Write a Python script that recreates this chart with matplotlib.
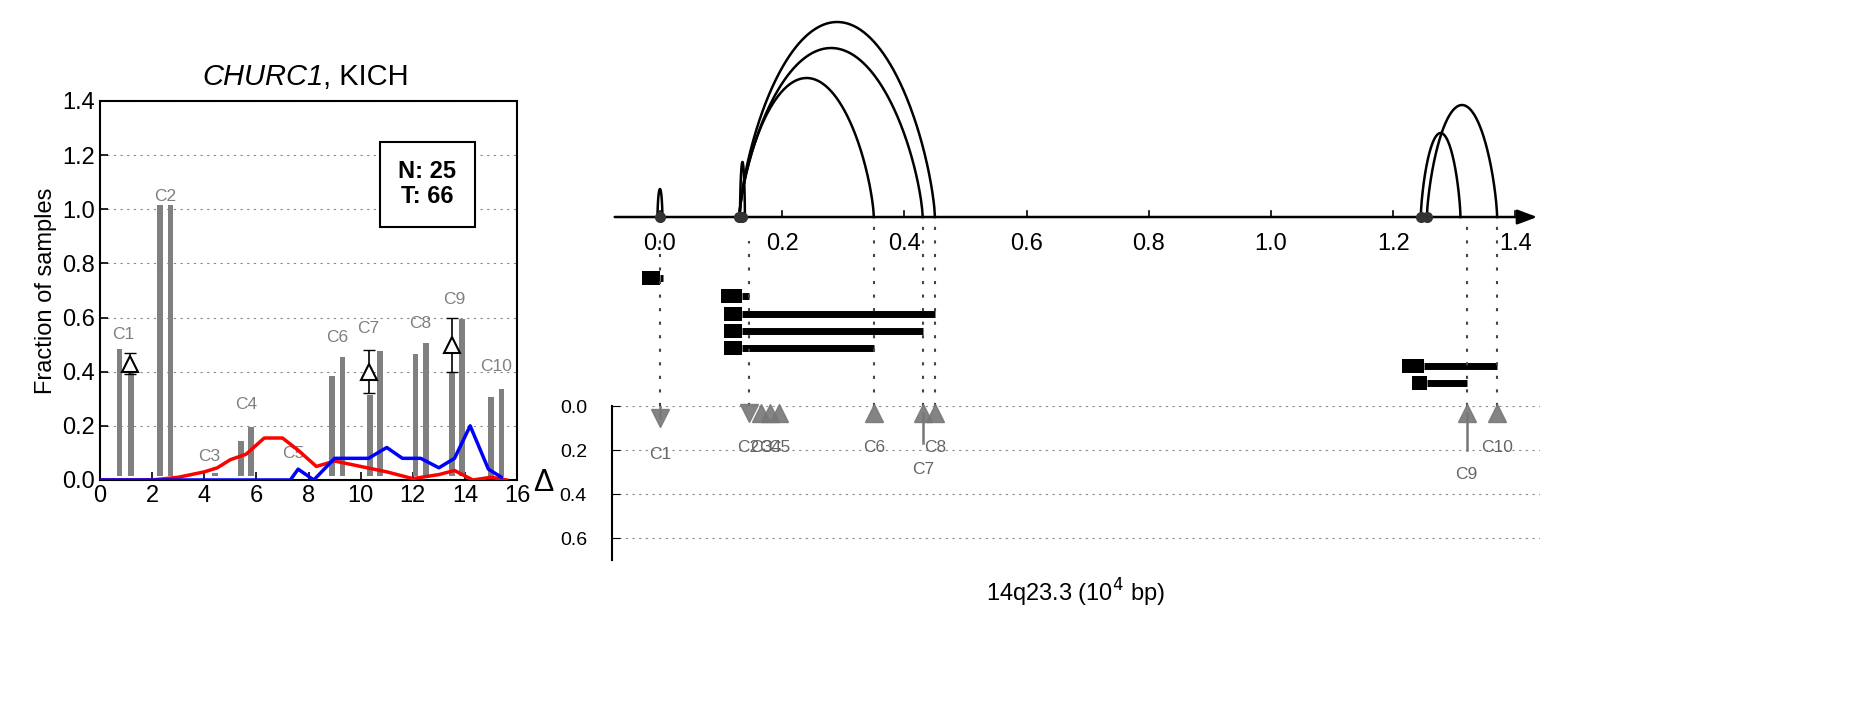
import matplotlib
matplotlib.use("Agg")
import matplotlib.pyplot as plt
import numpy as np

plt.rcParams['font.family'] = ['Liberation Sans', 'DejaVu Sans']

# ---- left panel data ----
bar_x = [0.75, 1.2, 2.3, 2.7, 4.1, 4.4, 5.4, 5.8, 7.3, 7.6, 8.9, 9.3, 10.35, 10.75, 12.1, 12.5, 13.5, 13.9, 15.0, 15.4]
bar_h = [0.47, 0.38, 1.0, 1.0, 0.0, 0.01, 0.13, 0.18, 0.0, 0.0, 0.37, 0.44, 0.30, 0.46, 0.45, 0.49, 0.38, 0.58, 0.29, 0.32]
clust_labels = ['C1', 'C2', 'C3', 'C4', 'C5', 'C6', 'C7', 'C8', 'C9', 'C10']
clust_lab_x = [0.9, 2.5, 4.2, 5.6, 7.4, 9.1, 10.3, 12.3, 13.6, 15.2]
clust_lab_y = [0.51, 1.02, 0.06, 0.25, 0.07, 0.50, 0.53, 0.55, 0.64, 0.39]
delta_x = [1.15, 10.3, 13.5]
delta_y = [0.43, 0.40, 0.50]
delta_lo = [0.39, 0.32, 0.40]
delta_hi = [0.47, 0.48, 0.60]
red_x = [0, 2, 3, 4, 4.5, 5, 5.6, 6.3, 7, 7.6, 8.3, 9, 10, 11, 12, 13, 13.6, 14.3, 15, 15.6]
red_y = [0, 0, 0.01, 0.03, 0.045, 0.075, 0.095, 0.155, 0.155, 0.11, 0.05, 0.07, 0.05, 0.03, 0.005, 0.02, 0.035, 0.0, 0.01, 0.0]
blue_x = [0, 7.3, 7.6, 8.2, 8.6, 9, 10.3, 11, 11.6, 12.3, 13, 13.6, 14.2, 14.9, 15.4]
blue_y = [0, 0, 0.04, 0.0, 0.04, 0.08, 0.08, 0.12, 0.08, 0.08, 0.045, 0.08, 0.2, 0.04, 0.01]

# ---- right panel data ----
arc_start = [0.13, 0.13, 0.13, 1.245, 1.255]
arc_end = [0.35, 0.43, 0.45, 1.31, 1.37]
arc_h = [139, 169, 195, 84, 112]
spike_x = [0.0, 0.135]
spike_h = [28, 55]
dot_x = [0.0, 0.13, 0.135, 1.245, 1.255]
tr_box = [(-0.03, 0.0), (0.10, 0.135), (0.105, 0.135), (0.105, 0.135), (0.105, 0.135), (1.215, 1.25), (1.23, 1.255)]
tr_end = [0.005, 0.145, 0.45, 0.43, 0.35, 1.37, 1.32]
tr_y = [128, 110, 92, 75, 58, 40, 23]
c_x = [0.0, 0.145, 0.165, 0.18, 0.195, 0.35, 0.43, 0.45, 1.32, 1.37]
c_y = [0.055, 0.03, 0.03, 0.03, 0.03, 0.03, 0.03, 0.03, 0.03, 0.03]
c_down = [True, True, False, False, False, False, False, False, False, False]
c_stem = [0.055, 0, 0, 0, 0, 0, 0.17, 0, 0.2, 0]
c_lab_y = [0.22, 0.19, 0.19, 0.19, 0.19, 0.19, 0.29, 0.19, 0.31, 0.19]
vline_x = [0.0, 0.145, 0.35, 0.43, 0.45, 1.32, 1.37]
vline_top = [175, 165, 189, 189, 189, 189, 189]
xticks_r = [0.0, 0.2, 0.4, 0.6, 0.8, 1.0, 1.2, 1.4]

fig = plt.figure(figsize=(18.56, 7.18), dpi=100)

# ===== left =====
ax = fig.add_axes([0.0539, 0.3315, 0.2247, 0.5279])
ax.bar(bar_x, bar_h, width=0.22, bottom=0.015, color='#808080', edgecolor='none', zorder=2)
for lx, ly, t in zip(clust_lab_x, clust_lab_y, clust_labels):
    ax.text(lx, ly, t, color='#808080', fontsize=12.5, ha='center', va='bottom', zorder=3)
ax.plot(red_x, red_y, color='red', lw=2.5, zorder=4)
ax.plot(blue_x, blue_y, color='blue', lw=2.5, zorder=4)
for dx, dy, lo, hi in zip(delta_x, delta_y, delta_lo, delta_hi):
    ax.errorbar([dx], [dy], yerr=[[dy - lo], [hi - dy]], fmt='none', ecolor='black', capsize=4, lw=1.2, zorder=5)
    ax.plot([dx], [dy], marker='^', ms=11, mfc='white', mec='black', mew=1.5, zorder=6)
ax.set_xlim(0, 16)
ax.set_ylim(0, 1.4)
ax.set_xticks(range(0, 17, 2))
ax.set_yticks(np.arange(0, 1.41, 0.2))
ax.set_yticklabels(['%.1f' % v for v in np.arange(0, 1.41, 0.2)])
ax.tick_params(direction='in', labelsize=17, length=6, width=1.2)
ax.yaxis.grid(True, ls=(0, (2, 4)), color='#888888', lw=0.8)
for s in ax.spines.values():
    s.set_linewidth(1.5)
ax.set_ylabel('Fraction of samples', fontsize=17)
ax.text(0.535, 1.025, 'CHURC1', transform=ax.transAxes, fontsize=21, style='italic', ha='right', va='bottom')
ax.text(0.535, 1.025, ', KICH', transform=ax.transAxes, fontsize=21, ha='left', va='bottom')
ax.text(0.785, 0.78, 'N: 25\nT: 66', transform=ax.transAxes, fontsize=17, fontweight='bold',
        va='center', ha='center', linespacing=1.1,
        bbox=dict(boxstyle='square,pad=0.8', fc='white', ec='black', lw=1.5))

# ===== right top =====
xl = (-0.0786, 1.44)
at = fig.add_axes([0.3297, 0.4345, 0.5, 0.5655])
at.set_xlim(*xl)
at.set_ylim(0, 406)
at.axis('off')
base = 189
at.annotate('', xy=(xl[1], base), xytext=(xl[0], base),
            arrowprops=dict(arrowstyle='-|>,head_length=1.2,head_width=0.45', color='black', lw=1.8))
for xt in xticks_r:
    at.plot([xt, xt], [base, base + 6], color='black', lw=1.2)
    at.text(xt, base - 16, '%.1f' % xt, ha='center', va='top', fontsize=17)
for s, e, h in zip(arc_start, arc_end, arc_h):
    u = np.linspace(-1, 1, 300)
    at.plot((s + e) / 2 + (e - s) / 2 * u, base + h * (1 - u ** 2) ** 0.7, color='black', lw=1.8)
for sx, sh in zip(spike_x, spike_h):
    w = 0.004
    u = np.linspace(-1, 1, 100)
    at.plot(sx + w * u, base + sh * (1 - u ** 2) ** 0.6, color='black', lw=1.8)
at.plot(dot_x, [base] * len(dot_x), 'o', color='#333333', ms=7, zorder=5)
for (b0, b1), e, y in zip(tr_box, tr_end, tr_y):
    at.plot([b1, e], [y, y], color='black', lw=5, solid_capstyle='butt')
    at.fill_between([b0, b1], y - 7, y + 7, color='black', lw=0)
for vx, vt in zip(vline_x, vline_top):
    at.plot([vx, vx], [0, vt], color='#444444', ls=(0, (1.5, 5)), lw=1.5)

# ===== right bottom =====
ab = fig.add_axes([0.3297, 0.22, 0.5, 0.2145])
ab.set_xlim(*xl)
ab.set_ylim(0.7, 0.0)
for k in ['top', 'right', 'bottom']:
    ab.spines[k].set_visible(False)
ab.spines['left'].set_linewidth(1.5)
ab.set_xticks([])
ab.set_yticks([0.0, 0.2, 0.4, 0.6])
ab.set_yticklabels(['0.0', '0.2', '0.4', '0.6'])
ab.tick_params(axis='y', direction='in', labelsize=14, length=6, pad=18)
ab.yaxis.grid(True, ls=(0, (2, 4)), color='#888888', lw=0.8)
ab.set_ylabel('Δ', fontsize=22, rotation=0, labelpad=12, va='center')
for i, (cx, cy, dn, st, ly, lab) in enumerate(zip(c_x, c_y, c_down, c_stem, c_lab_y, clust_labels)):
    if st > 0:
        ab.plot([cx, cx], [0, st] if dn else [cy, st], color='#777777', lw=1.8, zorder=2)
    ab.plot([cx], [cy], marker='v' if dn else '^', ms=13, color='#777777', alpha=0.9, zorder=3, clip_on=False)
    ab.text(cx, ly, lab, ha='center', va='center', fontsize=12.5, color='#666666')
ab.set_xlabel('14q23.3 (10$^4$ bp)', fontsize=17, labelpad=12)

fig.savefig('out.png', dpi=100)
